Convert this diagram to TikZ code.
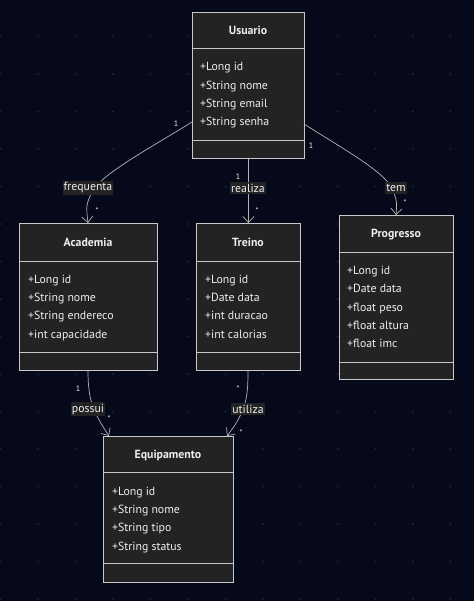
\documentclass[tikz,border=0pt]{standalone}
\usepackage{fontspec}
\setmainfont{PT Sans}
\usetikzlibrary{arrows.meta}
\definecolor{bgc}{RGB}{5,9,26}
\definecolor{boxc}{RGB}{35,35,35}
\definecolor{linec}{RGB}{200,200,200}
\definecolor{txtc}{RGB}{238,238,238}
\definecolor{edgec}{RGB}{180,180,180}
\definecolor{dotc}{RGB}{30,34,50}
\tikzset{
  classbox/.style={draw=linec, fill=boxc, line width=0.9pt, inner sep=0, anchor=north west},
  divider/.style={draw=linec, line width=0.9pt},
  ttl/.style={text=txtc, font=\fontsize{11.8}{12}\selectfont\bfseries, inner sep=0, anchor=base},
  attr/.style={text=txtc, font=\fontsize{11.8}{12}\selectfont, anchor=base west, inner sep=0},
  rel/.style={draw=edgec, line width=0.7pt, -{Straight Barb[length=6pt,width=11pt]}},
  elabel/.style={fill=boxc, text=txtc, font=\fontsize{11.8}{12}\selectfont, inner xsep=1pt, inner ysep=2pt},
  mult/.style={text=txtc, font=\fontsize{8}{9}\selectfont, inner sep=0}
}
\begin{document}
\begin{tikzpicture}[x=1pt,y=-1pt]
\fill[bgc] (0,0) rectangle (474,601);
\useasboundingbox (0,0) rectangle (474,601);
\foreach \i in {0,...,12} {\foreach \j in {1,...,16} {\fill[dotc] (0.5+37.5*\i,-1+37.5*\j) circle (1.2pt);}}

% Usuario
\node[classbox, minimum width=112pt, minimum height=146pt] (usu) at (192,12) {};
\draw[divider] (192,48) -- (304,48);
\draw[divider] (192,140) -- (304,140);
\node[ttl] (usuT) at (248,35) {Usuario};
\node[attr] (usu1) at (200,71) {+Long id};
\node[attr] (usu2) at (200,90) {+String nome};
\node[attr] (usu3) at (200,108) {+String email};
\node[attr] (usu4) at (200,126) {+String senha};

% Academia
\node[classbox, minimum width=138pt, minimum height=147pt] (aca) at (19,223) {};
\draw[divider] (19,261) -- (157,261);
\draw[divider] (19,352) -- (157,352);
\node[ttl] (acaT) at (88,247) {Academia};
\node[attr] (aca1) at (28,283) {+Long id};
\node[attr] (aca2) at (28,301) {+String nome};
\node[attr] (aca3) at (28,319) {+String endereco};
\node[attr] (aca4) at (28,338) {+int capacidade};

% Treino
\node[classbox, minimum width=104pt, minimum height=147pt] (tre) at (196,223) {};
\draw[divider] (196,261) -- (300,261);
\draw[divider] (196,352) -- (300,352);
\node[ttl] (treT) at (248,247) {Treino};
\node[attr] (tre1) at (205,283) {+Long id};
\node[attr] (tre2) at (205,301) {+Date data};
\node[attr] (tre3) at (205,319) {+int duracao};
\node[attr] (tre4) at (205,338) {+int calorias};

% Progresso
\node[classbox, minimum width=114pt, minimum height=164pt] (pro) at (339,215) {};
\draw[divider] (339,252) -- (453,252);
\draw[divider] (339,362) -- (453,362);
\node[ttl] (proT) at (396,237) {Progresso};
\node[attr] (pro1) at (347,274) {+Long id};
\node[attr] (pro2) at (347,292) {+Date data};
\node[attr] (pro3) at (347,311) {+float peso};
\node[attr] (pro4) at (347,329) {+float altura};
\node[attr] (pro5) at (347,347) {+float imc};

% Equipamento
\node[classbox, minimum width=130pt, minimum height=146pt] (equ) at (103,436) {};
\draw[divider] (103,472) -- (233,472);
\draw[divider] (103,563) -- (233,563);
\node[ttl] (equT) at (168,458) {Equipamento};
\node[attr] (equ1) at (112,495) {+Long id};
\node[attr] (equ2) at (112,513) {+String nome};
\node[attr] (equ3) at (112,531) {+String tipo};
\node[attr] (equ4) at (112,550) {+String status};

% connectors
\coordinate (usuL) at (192,122);
\coordinate (usuR) at (304,124);
\coordinate (acaTop) at (88,223);
\coordinate (proTop) at (396,215);
\coordinate (acaBot) at (88,370);
\coordinate (treBot) at (248,370);
\coordinate (equL) at (109,436);
\coordinate (equR) at (227,436);

\draw[rel] (usuL) .. controls (150,148) and (100,175) .. (92,192) .. controls (86,205) .. (acaTop);
\draw[rel] (usu.south) -- (tre.north);
\draw[rel] (usuR) .. controls (345,150) and (385,172) .. (393,190) .. controls (397,202) .. (proTop);
\draw[rel] (acaBot) .. controls (88,390) and (90,400) .. (95,412) .. controls (100,422) .. (equL);
\draw[rel] (treBot) .. controls (248,390) and (247,400) .. (242,412) .. controls (236,424) .. (equR);

% edge labels
\node[elabel] (lfreq) at (88,188) {frequenta};
\node[elabel] (lreal) at (248,188) {realiza};
\node[elabel] (ltem) at (396,188) {tem};
\node[elabel] (lposs) at (88,409) {possui};
\node[elabel] (lutil) at (248,409) {utiliza};

% multiplicities
\node[mult] (m1) at (176,124) {1};
\node[mult] (m2) at (97,211) {*};
\node[mult] (m3) at (238,177) {1};
\node[mult] (m4) at (257,211) {*};
\node[mult] (m5) at (311,146) {1};
\node[mult] (m6) at (405,203) {*};
\node[mult] (m7) at (78,389) {1};
\node[mult] (m8) at (109,419) {*};
\node[mult] (m9) at (238,389) {*};
\node[mult] (m10) at (241,433) {*};
\end{tikzpicture}
\end{document}
